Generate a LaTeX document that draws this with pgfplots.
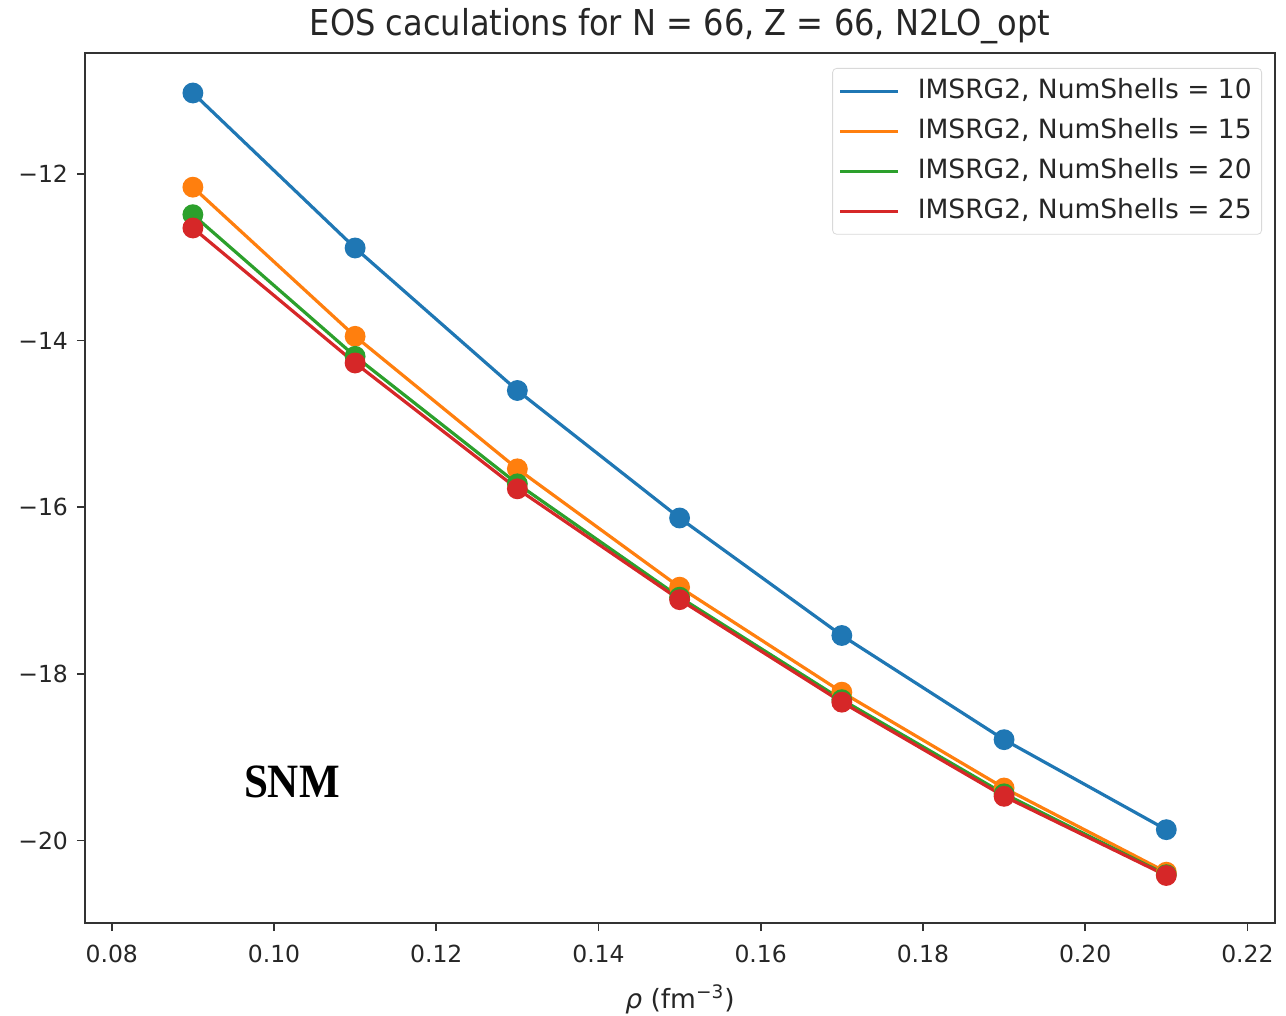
\documentclass[border=0pt]{standalone}
\usepackage{fontspec}
\setmainfont{DejaVu Sans}
\newfontfamily\condfont{DejaVu Sans Condensed}
\newfontfamily\snmfont{Liberation Serif}
\usepackage{graphicx}
\usepackage{pgfplots}
\pgfplotsset{compat=1.18}

\definecolor{mplblue}{HTML}{1F77B4}
\definecolor{mplorange}{HTML}{FF7F0E}
\definecolor{mplgreen}{HTML}{2CA02C}
\definecolor{mplred}{HTML}{D62728}
\definecolor{axgray}{HTML}{333333}

\begin{document}
\begin{tikzpicture}
\begin{axis}[
  name=main, at={(0,0)}, anchor=south west,
  scale only axis, width=595bp, height=435bp,
  xmin=0.0767, xmax=0.2234, ymin=-20.99, ymax=-10.55,
  axis line style={axgray, line width=0.9bp},
  xtick={0.08,0.10,0.12,0.14,0.16,0.18,0.20,0.22},
  xticklabels={0.08,0.10,0.12,0.14,0.16,0.18,0.20,0.22},
  ytick={-20,-18,-16,-14,-12},
  yticklabels={−20,−18,−16,−14,−12},
  xtick pos=bottom, ytick pos=left,
  tick align=outside, major tick length=4bp,
  tick style={axgray, line width=0.8bp},
  tick label style={font=\fontsize{11.8}{14}\selectfont, text=black!85},
  xticklabel style={yshift=-3.5bp},
  yticklabel style={xshift=-1bp},
  title={EOS caculations for N = 66, Z = 66, N2LO\_opt},
  title style={font=\condfont\fontsize{17.9}{20}\selectfont, text=black!85, yshift=-5bp},
  xlabel={\textit{ρ} (fm\textsuperscript{−3})},
  xlabel style={font=\fontsize{13.3}{15}\selectfont, text=black!85, yshift=-4bp},
  legend style={at={(1,1)}, anchor=north east, xshift=-6.5bp, yshift=-7.5bp,
    draw=black!15, rounded corners=2bp, fill=white,
    font=\fontsize{13.3}{15}\selectfont, text=black!85,
    row sep=4bp, inner xsep=3bp, inner ysep=3.5bp,
    nodes={text height=9.5bp, text depth=2.5bp},
    /tikz/every odd column/.append style={column sep=7bp}},
  legend cell align=left,
  legend image code/.code={\draw[#1, mark=none] (0bp,0bp) -- (29bp,0bp);},
  every axis plot/.append style={line width=1.6bp, mark=*, mark size=4.4bp, mark options={solid}},
]
\addplot[mplblue, mark options={fill=mplblue, draw=mplblue}] coordinates {
  (0.09,-11.03) (0.11,-12.89) (0.13,-14.60) (0.15,-16.13) (0.17,-17.54) (0.19,-18.79) (0.21,-19.87)
};
\addlegendentry{IMSRG2, NumShells = 10}
\addplot[mplorange, mark options={fill=mplorange, draw=mplorange}] coordinates {
  (0.09,-12.16) (0.11,-13.95) (0.13,-15.54) (0.15,-16.96) (0.17,-18.22) (0.19,-19.37) (0.21,-20.38)
};
\addlegendentry{IMSRG2, NumShells = 15}
\addplot[mplgreen, mark options={fill=mplgreen, draw=mplgreen}] coordinates {
  (0.09,-12.49) (0.11,-14.19) (0.13,-15.72) (0.15,-17.08) (0.17,-18.31) (0.19,-19.44) (0.21,-20.41)
};
\addlegendentry{IMSRG2, NumShells = 20}
\addplot[mplred, mark options={fill=mplred, draw=mplred}] coordinates {
  (0.09,-12.65) (0.11,-14.27) (0.13,-15.78) (0.15,-17.11) (0.17,-18.34) (0.19,-19.47) (0.21,-20.42)
};
\addlegendentry{IMSRG2, NumShells = 25}
\node at (axis cs:0.1022,-19.30) {\scalebox{0.9}[1]{\snmfont\bfseries\fontsize{24}{26}\selectfont SNM}};
\end{axis}
\pgfresetboundingbox
\useasboundingbox (-42.5bp,-46.5bp) rectangle (600.5bp,461.5bp);
\end{tikzpicture}
\end{document}
